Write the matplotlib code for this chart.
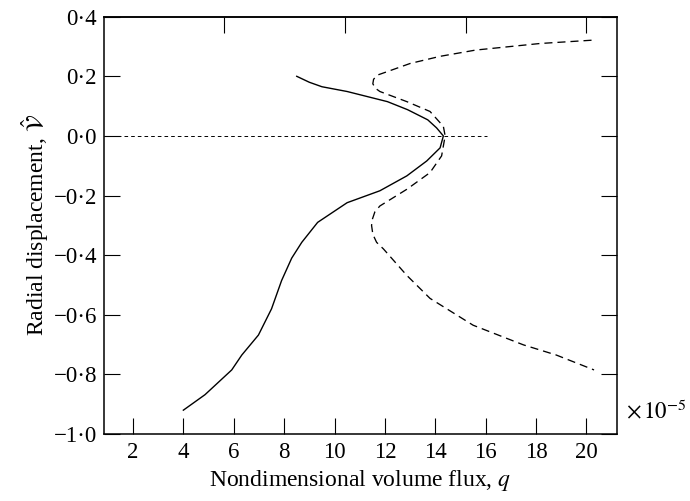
import numpy as np
import matplotlib.pyplot as plt
from matplotlib.ticker import FuncFormatter

plt.rcParams['font.family'] = ['Liberation Serif', 'DejaVu Serif']
plt.rcParams['mathtext.fontset'] = 'stix'
plt.rcParams['lines.scale_dashes'] = False

# solid branch (q x 1e5, radial displacement)
q_solid = [8.5, 9.0, 9.5, 10.5, 12.1, 12.9, 13.7, 14.05, 14.32, 14.19, 13.66,
           12.87, 11.8, 10.5, 9.33, 8.7, 8.3, 7.9, 7.5, 6.98, 6.32, 5.92,
           4.86, 4.0]
v_solid = [0.20, 0.18, 0.165, 0.149, 0.115, 0.088, 0.054, 0.027, 0.0, -0.040,
           -0.084, -0.134, -0.184, -0.224, -0.29, -0.357, -0.41, -0.485,
           -0.58, -0.668, -0.735, -0.785, -0.868, -0.920]

# dashed branch
q_dash = [20.2, 18.15, 15.6, 14.19, 13.0, 12.07, 11.7, 11.55, 11.52, 11.62,
          11.8, 12.87, 13.79, 14.32, 14.39, 14.25, 13.79, 12.87, 11.8, 11.6,
          11.5, 11.47, 11.52, 11.67, 11.94, 12.87, 13.79, 15.5, 16.83, 17.5,
          18.8, 20.3]
v_dash = [0.321, 0.31, 0.288, 0.267, 0.243, 0.215, 0.204, 0.19, 0.175, 0.16,
          0.149, 0.115, 0.082, 0.032, 0.0, -0.067, -0.123, -0.179, -0.235,
          -0.255, -0.28, -0.30, -0.33, -0.357, -0.379, -0.468, -0.545, -0.635,
          -0.679, -0.701, -0.735, -0.785]

# dotted reference line
q_zero = [0.85, 16.05]
v_zero = [0.0, 0.0]

x_ticks = [2, 4, 6, 8, 10, 12, 14, 16, 18, 20]
top_ticks = [5.6, 10.4, 15.2, 20.0]
y_ticks = [0.4, 0.2, 0.0, -0.2, -0.4, -0.6, -0.8, -1.0]

fig = plt.figure(figsize=(6.9, 5.01), dpi=100)
ax = fig.add_axes([0.1507, 0.1337, 0.7431, 0.833])

ax.plot(q_solid, v_solid, color='black', lw=1.0)
ax.plot(q_dash, v_dash, color='black', lw=0.95, dashes=(5.8, 3.6))
ax.plot(q_zero, v_zero, color='black', lw=0.7, dashes=(2.6, 2.2))

ax.set_xlim(0.85, 21.2)
ax.set_ylim(-1.0, 0.4)
ax.set_xticks(x_ticks)
ax.set_yticks(y_ticks)
ax.yaxis.set_major_formatter(FuncFormatter(
    lambda v, p: f"{v:.1f}".replace('.', '\u00b7').replace('-', '\u2212')))

ax.tick_params(axis='both', direction='in', length=11.5, width=0.8,
               labelsize=16.5, right=True, pad=5)
ax.tick_params(axis='x', pad=6)

top = ax.secondary_xaxis('top')
top.set_xticks(top_ticks)
top.set_xticklabels([])
top.tick_params(direction='in', length=11.5, width=0.8)

for s in ax.spines.values():
    s.set_linewidth(1.1)
top.spines['top'].set_linewidth(1.1)

ax.set_xlabel('Nondimensional volume flux, $q$', fontsize=17, labelpad=3)
ax.set_ylabel('Radial displacement, $\\hat{\\mathcal{V}}$', fontsize=17, labelpad=2)

fig.text(0.907, 0.176, '$\\times\\,10^{-5}$', fontsize=16.5, ha='left', va='center')

fig.savefig('out.png', dpi=100)
